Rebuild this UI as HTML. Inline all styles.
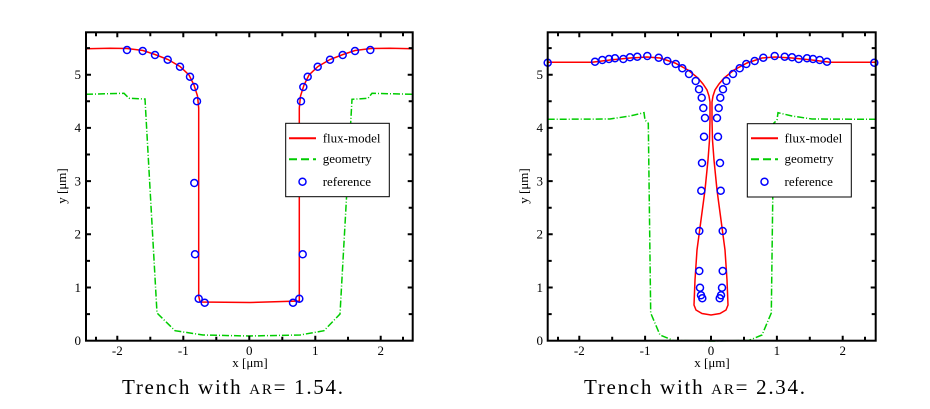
<!DOCTYPE html>
<html><head><meta charset="utf-8"><style>
html,body{margin:0;padding:0;background:#fff;}
svg{display:block;}
text{font-family:"Liberation Serif",serif;fill:#000;}
</style></head><body>
<svg width="930" height="409" viewBox="0 0 930 409" xmlns="http://www.w3.org/2000/svg">

<!-- LEFT PLOT -->
<g>
<polyline fill="none" stroke="#00cc00" stroke-width="1.5" stroke-dasharray="7,2,1,2" points="86,94.3 124,93.3 129,98.3 145,99 157,313 175,330.7 203,335 249,336 300,335 324,330.7 340,314 352,99.3 368,98.3 372,93.3 413,94.3"/>
<polyline fill="none" stroke="#ff0000" stroke-width="1.5" points="86,48.7 110,48.3 127,48.5 143,50.5 155,54.5 168,59.5 180,66.5 189,75 194,85 197.5,96 198.7,108 198.7,296 200,302 250,302.5 299.3,301 299.3,108 300.5,96 304,85 309,75 318,66.5 330,59.5 343,54.5 355,50.5 371,48.5 390,48.3 413,48.7"/>
<g fill="none" stroke="#0000ff" stroke-width="1.5">
<circle cx="127" cy="50" r="3.5"/><circle cx="142.7" cy="51" r="3.5"/><circle cx="155" cy="55" r="3.5"/><circle cx="167.7" cy="59.7" r="3.5"/><circle cx="180" cy="66.7" r="3.5"/><circle cx="190" cy="76.7" r="3.5"/><circle cx="194.3" cy="87" r="3.5"/><circle cx="197" cy="101.3" r="3.5"/><circle cx="194.3" cy="183" r="3.5"/><circle cx="195" cy="254.3" r="3.5"/><circle cx="198.7" cy="298.7" r="3.5"/><circle cx="204.7" cy="302.7" r="3.5"/>
<circle cx="370.3" cy="50" r="3.5"/><circle cx="355" cy="51" r="3.5"/><circle cx="342.7" cy="55" r="3.5"/><circle cx="330" cy="59.7" r="3.5"/><circle cx="317.7" cy="66.7" r="3.5"/><circle cx="307.7" cy="76.7" r="3.5"/><circle cx="303.3" cy="87" r="3.5"/><circle cx="301" cy="101.3" r="3.5"/><circle cx="302.7" cy="254.3" r="3.5"/><circle cx="299.3" cy="298.7" r="3.5"/><circle cx="293" cy="302.7" r="3.5"/>
</g>
<rect x="86" y="32.3" width="326.7" height="308.4" fill="none" stroke="#000" stroke-width="2"/>
<g stroke="#000" stroke-width="2">
<path d="M117.3,340.7v-5M183.3,340.7v-5M249.3,340.7v-5M315.3,340.7v-5M380.7,340.7v-5M117.3,32.3v5M183.3,32.3v5M249.3,32.3v5M315.3,32.3v5M380.7,32.3v5"/>
<path d="M150.3,340.7v-4M216.3,340.7v-4M282.3,340.7v-4M348,340.7v-4M150.3,32.3v4M216.3,32.3v4M282.3,32.3v4M348,32.3v4M96,340.7v-4M403,340.7v-4M96,32.3v4M403,32.3v4"/>
<path d="M86,287.5h5M86,234.3h5M86,181.1h5M86,127.9h5M86,74.7h5M412.7,287.5h-5M412.7,234.3h-5M412.7,181.1h-5M412.7,127.9h-5M412.7,74.7h-5"/>
<path d="M86,314.1h4M86,260.9h4M86,207.7h4M86,154.5h4M86,101.3h4M86,48.1h4M412.7,314.1h-4M412.7,260.9h-4M412.7,207.7h-4M412.7,154.5h-4M412.7,101.3h-4M412.7,48.1h-4"/>
</g>
<g font-size="13" text-anchor="middle">
<text x="117.3" y="355">-2</text><text x="183.3" y="355">-1</text><text x="249.3" y="355">0</text><text x="315.3" y="355">1</text><text x="380.7" y="355">2</text>
</g>
<g font-size="13" text-anchor="end">
<text x="81" y="345">0</text><text x="81" y="292">1</text><text x="81" y="238.5">2</text><text x="81" y="185.3">3</text><text x="81" y="132">4</text><text x="81" y="79">5</text>
</g>
<text x="250" y="367" font-size="13" text-anchor="middle">x  [μm]</text>
<text transform="translate(66,186) rotate(-90)" font-size="13" text-anchor="middle">y  [μm]</text>
<rect x="285.7" y="123.3" width="103.6" height="73.4" fill="#fff" stroke="#000" stroke-width="1"/>
<line x1="289" y1="138.3" x2="316" y2="138.3" stroke="#ff0000" stroke-width="2"/>
<line x1="289" y1="159.3" x2="316" y2="159.3" stroke="#00cc00" stroke-width="2" stroke-dasharray="8,4"/>
<circle cx="302.5" cy="181.7" r="3.5" fill="none" stroke="#0000ff" stroke-width="1.5"/>
<text x="322.7" y="142.5" font-size="13">flux-model</text>
<text x="322.7" y="163" font-size="13">geometry</text>
<text x="322.7" y="186" font-size="13">reference</text>
<text x="122" y="394" font-size="21" textLength="221" lengthAdjust="spacing">Trench with <tspan font-size="15">AR</tspan>= 1.54.</text>
</g>

<!-- RIGHT PLOT -->
<g>
<polyline fill="none" stroke="#00cc00" stroke-width="1.5" stroke-dasharray="7,2,1,2" points="547.7,119.3 610,119 630,116 644,112.7 645,120 648.3,123.3 650.7,313 660,335 673.3,340.5 711,341 748.7,340.5 762,335 771.3,313 773.7,123.3 777,120 778,112.7 792,116 812,119 875.7,119.3"/>
<polyline fill="none" stroke="#ff0000" stroke-width="1.5" points="547.7,62.3 592,62.3 610,60 630,58 647,57 660,58 675,63 688,70 698,78 703,84 707,90 709,96 710,102 710,120 709.5,140 708,160 705,190 701,220 697,250 695,280 694,305 696,310 702,313.5 711,315 720,313.5 726,310 728,305 727,280 725,250 721,220 717,190 714,160 712.5,140 712,120 712,102 713,96 715,90 719,84 724,78 734,70 747,63 762,58 775,57 792,58 812,60 830,62.3 875.7,62.3"/>
<g fill="none" stroke="#0000ff" stroke-width="1.5">
<circle cx="547.7" cy="62.7" r="3.5"/><circle cx="595" cy="61.7" r="3.5"/><circle cx="602.3" cy="60" r="3.5"/><circle cx="609" cy="59" r="3.5"/><circle cx="615" cy="58.3" r="3.5"/><circle cx="623.3" cy="59" r="3.5"/><circle cx="630" cy="57.3" r="3.5"/><circle cx="637.3" cy="56.7" r="3.5"/><circle cx="647.3" cy="56" r="3.5"/><circle cx="658.7" cy="57.7" r="3.5"/><circle cx="667.3" cy="61" r="3.5"/><circle cx="675.7" cy="64" r="3.5"/><circle cx="682.3" cy="68.3" r="3.5"/><circle cx="689" cy="74" r="3.5"/><circle cx="695.7" cy="81" r="3.5"/><circle cx="699" cy="89.3" r="3.5"/><circle cx="701.7" cy="97.7" r="3.5"/><circle cx="703.3" cy="108" r="3.5"/><circle cx="705" cy="118" r="3.5"/><circle cx="704" cy="136.7" r="3.5"/><circle cx="702" cy="163" r="3.5"/><circle cx="701.3" cy="190.7" r="3.5"/><circle cx="699.3" cy="231" r="3.5"/><circle cx="699.3" cy="271" r="3.5"/><circle cx="700" cy="287.7" r="3.5"/><circle cx="701" cy="295.3" r="3.5"/><circle cx="702.3" cy="298.3" r="3.5"/>
<circle cx="874.3" cy="62.7" r="3.5"/><circle cx="827" cy="61.7" r="3.5"/><circle cx="819.7" cy="60" r="3.5"/><circle cx="813" cy="59" r="3.5"/><circle cx="807" cy="58.3" r="3.5"/><circle cx="798.7" cy="59" r="3.5"/><circle cx="792" cy="57.3" r="3.5"/><circle cx="784.7" cy="56.7" r="3.5"/><circle cx="774.7" cy="56" r="3.5"/><circle cx="763.3" cy="57.7" r="3.5"/><circle cx="754.7" cy="61" r="3.5"/><circle cx="746.3" cy="64" r="3.5"/><circle cx="739.7" cy="68.3" r="3.5"/><circle cx="733" cy="74" r="3.5"/><circle cx="726.3" cy="81" r="3.5"/><circle cx="723" cy="89.3" r="3.5"/><circle cx="720.3" cy="97.7" r="3.5"/><circle cx="718.7" cy="108" r="3.5"/><circle cx="717" cy="118" r="3.5"/><circle cx="718" cy="136.7" r="3.5"/><circle cx="720" cy="163" r="3.5"/><circle cx="720.7" cy="190.7" r="3.5"/><circle cx="722.7" cy="231" r="3.5"/><circle cx="722.7" cy="271" r="3.5"/><circle cx="722" cy="287.7" r="3.5"/><circle cx="721" cy="295.3" r="3.5"/><circle cx="719.7" cy="298.3" r="3.5"/>
</g>
<rect x="547.7" y="32.3" width="328" height="308.4" fill="none" stroke="#000" stroke-width="2"/>
<g stroke="#000" stroke-width="2">
<path d="M579.3,340.7v-5M645.1,340.7v-5M711,340.7v-5M776.9,340.7v-5M842.7,340.7v-5M579.3,32.3v5M645.1,32.3v5M711,32.3v5M776.9,32.3v5M842.7,32.3v5"/>
<path d="M612.2,340.7v-4M678,340.7v-4M744,340.7v-4M809.8,340.7v-4M612.2,32.3v4M678,32.3v4M744,32.3v4M809.8,32.3v4M558,340.7v-4M865,340.7v-4M558,32.3v4M865,32.3v4"/>
<path d="M547.7,287.5h5M547.7,234.3h5M547.7,181.1h5M547.7,127.9h5M547.7,74.7h5M875.7,287.5h-5M875.7,234.3h-5M875.7,181.1h-5M875.7,127.9h-5M875.7,74.7h-5"/>
<path d="M547.7,314.1h4M547.7,260.9h4M547.7,207.7h4M547.7,154.5h4M547.7,101.3h4M547.7,48.1h4M875.7,314.1h-4M875.7,260.9h-4M875.7,207.7h-4M875.7,154.5h-4M875.7,101.3h-4M875.7,48.1h-4"/>
</g>
<g font-size="13" text-anchor="middle">
<text x="579.3" y="355">-2</text><text x="645.1" y="355">-1</text><text x="711" y="355">0</text><text x="776.9" y="355">1</text><text x="842.7" y="355">2</text>
</g>
<g font-size="13" text-anchor="end">
<text x="543" y="345">0</text><text x="543" y="292">1</text><text x="543" y="238.5">2</text><text x="543" y="185.3">3</text><text x="543" y="132">4</text><text x="543" y="79">5</text>
</g>
<text x="712" y="367" font-size="13" text-anchor="middle">x  [μm]</text>
<text transform="translate(528,186) rotate(-90)" font-size="13" text-anchor="middle">y  [μm]</text>
<rect x="747.3" y="123.7" width="104" height="73.3" fill="#fff" stroke="#000" stroke-width="1"/>
<line x1="751" y1="138.3" x2="778" y2="138.3" stroke="#ff0000" stroke-width="2"/>
<line x1="751" y1="159.3" x2="778" y2="159.3" stroke="#00cc00" stroke-width="2" stroke-dasharray="8,4"/>
<circle cx="764.5" cy="181.7" r="3.5" fill="none" stroke="#0000ff" stroke-width="1.5"/>
<text x="784.5" y="142.5" font-size="13">flux-model</text>
<text x="784.5" y="163" font-size="13">geometry</text>
<text x="784.5" y="186" font-size="13">reference</text>
<text x="584" y="394" font-size="21" textLength="221" lengthAdjust="spacing">Trench with <tspan font-size="15">AR</tspan>= 2.34.</text>
</g>
</svg>
</body></html>
